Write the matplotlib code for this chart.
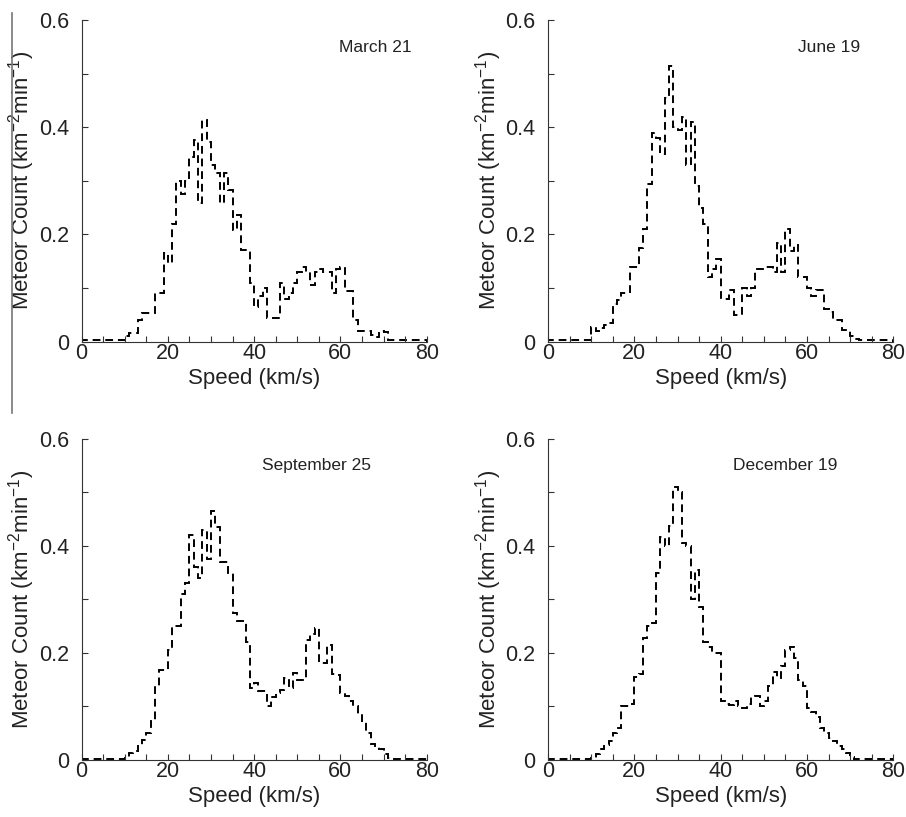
import numpy as np
import matplotlib
matplotlib.use("Agg")
import matplotlib.pyplot as plt
from matplotlib.ticker import MultipleLocator

plt.rcParams['font.family'] = ['Liberation Sans', 'DejaVu Sans']
plt.rcParams['mathtext.default'] = 'regular'

# speed bins, 1 km/s wide, 0..80
speed_edges = np.arange(0, 81, 1)

# meteor count per bin (km^-2 min^-1), bins 0-79
march21 = [0.002] * 10 + [
    0.010, 0.016, 0.016, 0.040, 0.053, 0.053, 0.053, 0.090, 0.090, 0.165,
    0.146, 0.220, 0.300, 0.276, 0.300, 0.345, 0.376, 0.258, 0.413, 0.373,
    0.329, 0.314, 0.258, 0.314, 0.283, 0.208, 0.236, 0.171, 0.171, 0.110,
    0.065, 0.085, 0.100, 0.044, 0.044, 0.044, 0.110, 0.080, 0.090, 0.110,
    0.130, 0.140, 0.130, 0.105, 0.130, 0.135, 0.130, 0.130, 0.090, 0.135,
    0.140, 0.095, 0.095, 0.040, 0.020, 0.020, 0.020, 0.012, 0.008, 0.020,
    0.018, 0.002] + [0.002] * 8

june19 = [0.002] * 10 + [
    0.028, 0.020, 0.025, 0.030, 0.035, 0.070, 0.078, 0.090, 0.090, 0.140,
    0.140, 0.175, 0.210, 0.295, 0.390, 0.380, 0.350, 0.455, 0.515, 0.400,
    0.395, 0.420, 0.330, 0.410, 0.290, 0.250, 0.220, 0.120, 0.135, 0.155,
    0.080, 0.080, 0.097, 0.050, 0.050, 0.100, 0.085, 0.100, 0.135, 0.135,
    0.140, 0.140, 0.130, 0.185, 0.130, 0.210, 0.170, 0.180, 0.120, 0.120,
    0.100, 0.085, 0.097, 0.097, 0.060, 0.055, 0.040, 0.040, 0.022, 0.022,
    0.010, 0.005] + [0.002] * 8

september25 = [0.002] * 10 + [
    0.003, 0.012, 0.016, 0.025, 0.037, 0.050, 0.072, 0.137, 0.168, 0.168,
    0.205, 0.250, 0.250, 0.310, 0.330, 0.420, 0.360, 0.340, 0.430, 0.375,
    0.465, 0.435, 0.370, 0.370, 0.350, 0.275, 0.260, 0.260, 0.220, 0.135,
    0.143, 0.128, 0.128, 0.100, 0.118, 0.125, 0.131, 0.153, 0.134, 0.162,
    0.150, 0.150, 0.224, 0.235, 0.246, 0.181, 0.180, 0.215, 0.160, 0.159,
    0.125, 0.120, 0.110, 0.100, 0.085, 0.070, 0.050, 0.030, 0.025, 0.020,
    0.010, 0.003] + [0.002] * 8

december19 = [0.002] * 10 + [
    0.004, 0.010, 0.020, 0.028, 0.035, 0.050, 0.060, 0.100, 0.100, 0.105,
    0.155, 0.160, 0.227, 0.250, 0.255, 0.350, 0.417, 0.400, 0.436, 0.510,
    0.500, 0.405, 0.400, 0.300, 0.355, 0.286, 0.220, 0.210, 0.200, 0.200,
    0.110, 0.105, 0.103, 0.110, 0.100, 0.097, 0.105, 0.118, 0.120, 0.100,
    0.110, 0.137, 0.165, 0.153, 0.175, 0.205, 0.210, 0.190, 0.150, 0.137,
    0.097, 0.090, 0.080, 0.060, 0.050, 0.040, 0.035, 0.025, 0.020, 0.012,
    0.005, 0.002] + [0.002] * 8

panels = [("March 21", march21, 68), ("June 19", june19, 65),
          ("September 25", september25, 54.5), ("December 19", december19, 55)]

fig = plt.figure(figsize=(9.06, 8.17), dpi=100)
lefts = [0.090, 0.605, 0.090, 0.605]
bottoms = [0.582, 0.582, 0.070, 0.070]

for i, (name, counts, tx) in enumerate(panels):
    ax = fig.add_axes([lefts[i], bottoms[i], 0.381, 0.393])
    ax.stairs(counts, speed_edges, color='k', lw=1.4, ls=(0, (4, 2.5)))
    ax.set_xlim(0, 80)
    ax.set_ylim(0, 0.6)
    ax.xaxis.set_major_locator(MultipleLocator(20))
    ax.xaxis.set_minor_locator(MultipleLocator(5))
    ax.yaxis.set_major_locator(MultipleLocator(0.2))
    ax.yaxis.set_minor_locator(MultipleLocator(0.1))
    ax.yaxis.set_major_formatter(plt.FuncFormatter(lambda v, p: '0' if v == 0 else '%.1f' % v))
    ax.tick_params(which='both', direction='in', length=4, width=0.8, labelsize=15.5,
                   color='#333333', labelcolor='#222222')
    ax.tick_params(axis='x', pad=1)
    ax.tick_params(axis='y', pad=9)
    for s in ['top', 'right']:
        ax.spines[s].set_visible(False)
    for s in ['left', 'bottom']:
        ax.spines[s].set_color('#333333')
    ax.set_xlabel('Speed (km/s)', fontsize=16, labelpad=3, color='#222222')
    ax.set_ylabel('Meteor Count (km$^{-2}$min$^{-1}$)', fontsize=16, color='#222222')
    ax.yaxis.set_label_coords(-0.128, 0.5)
    ax.text(tx, 0.55, name, ha='center', va='center', fontsize=12.5, color='#222222')

# stray vertical rule at the left edge of the scan
fig.add_artist(plt.Line2D([0.0132, 0.0132], [0.984, 0.4945], color='#777777', lw=1.2))

fig.savefig('out.png', dpi=100)
